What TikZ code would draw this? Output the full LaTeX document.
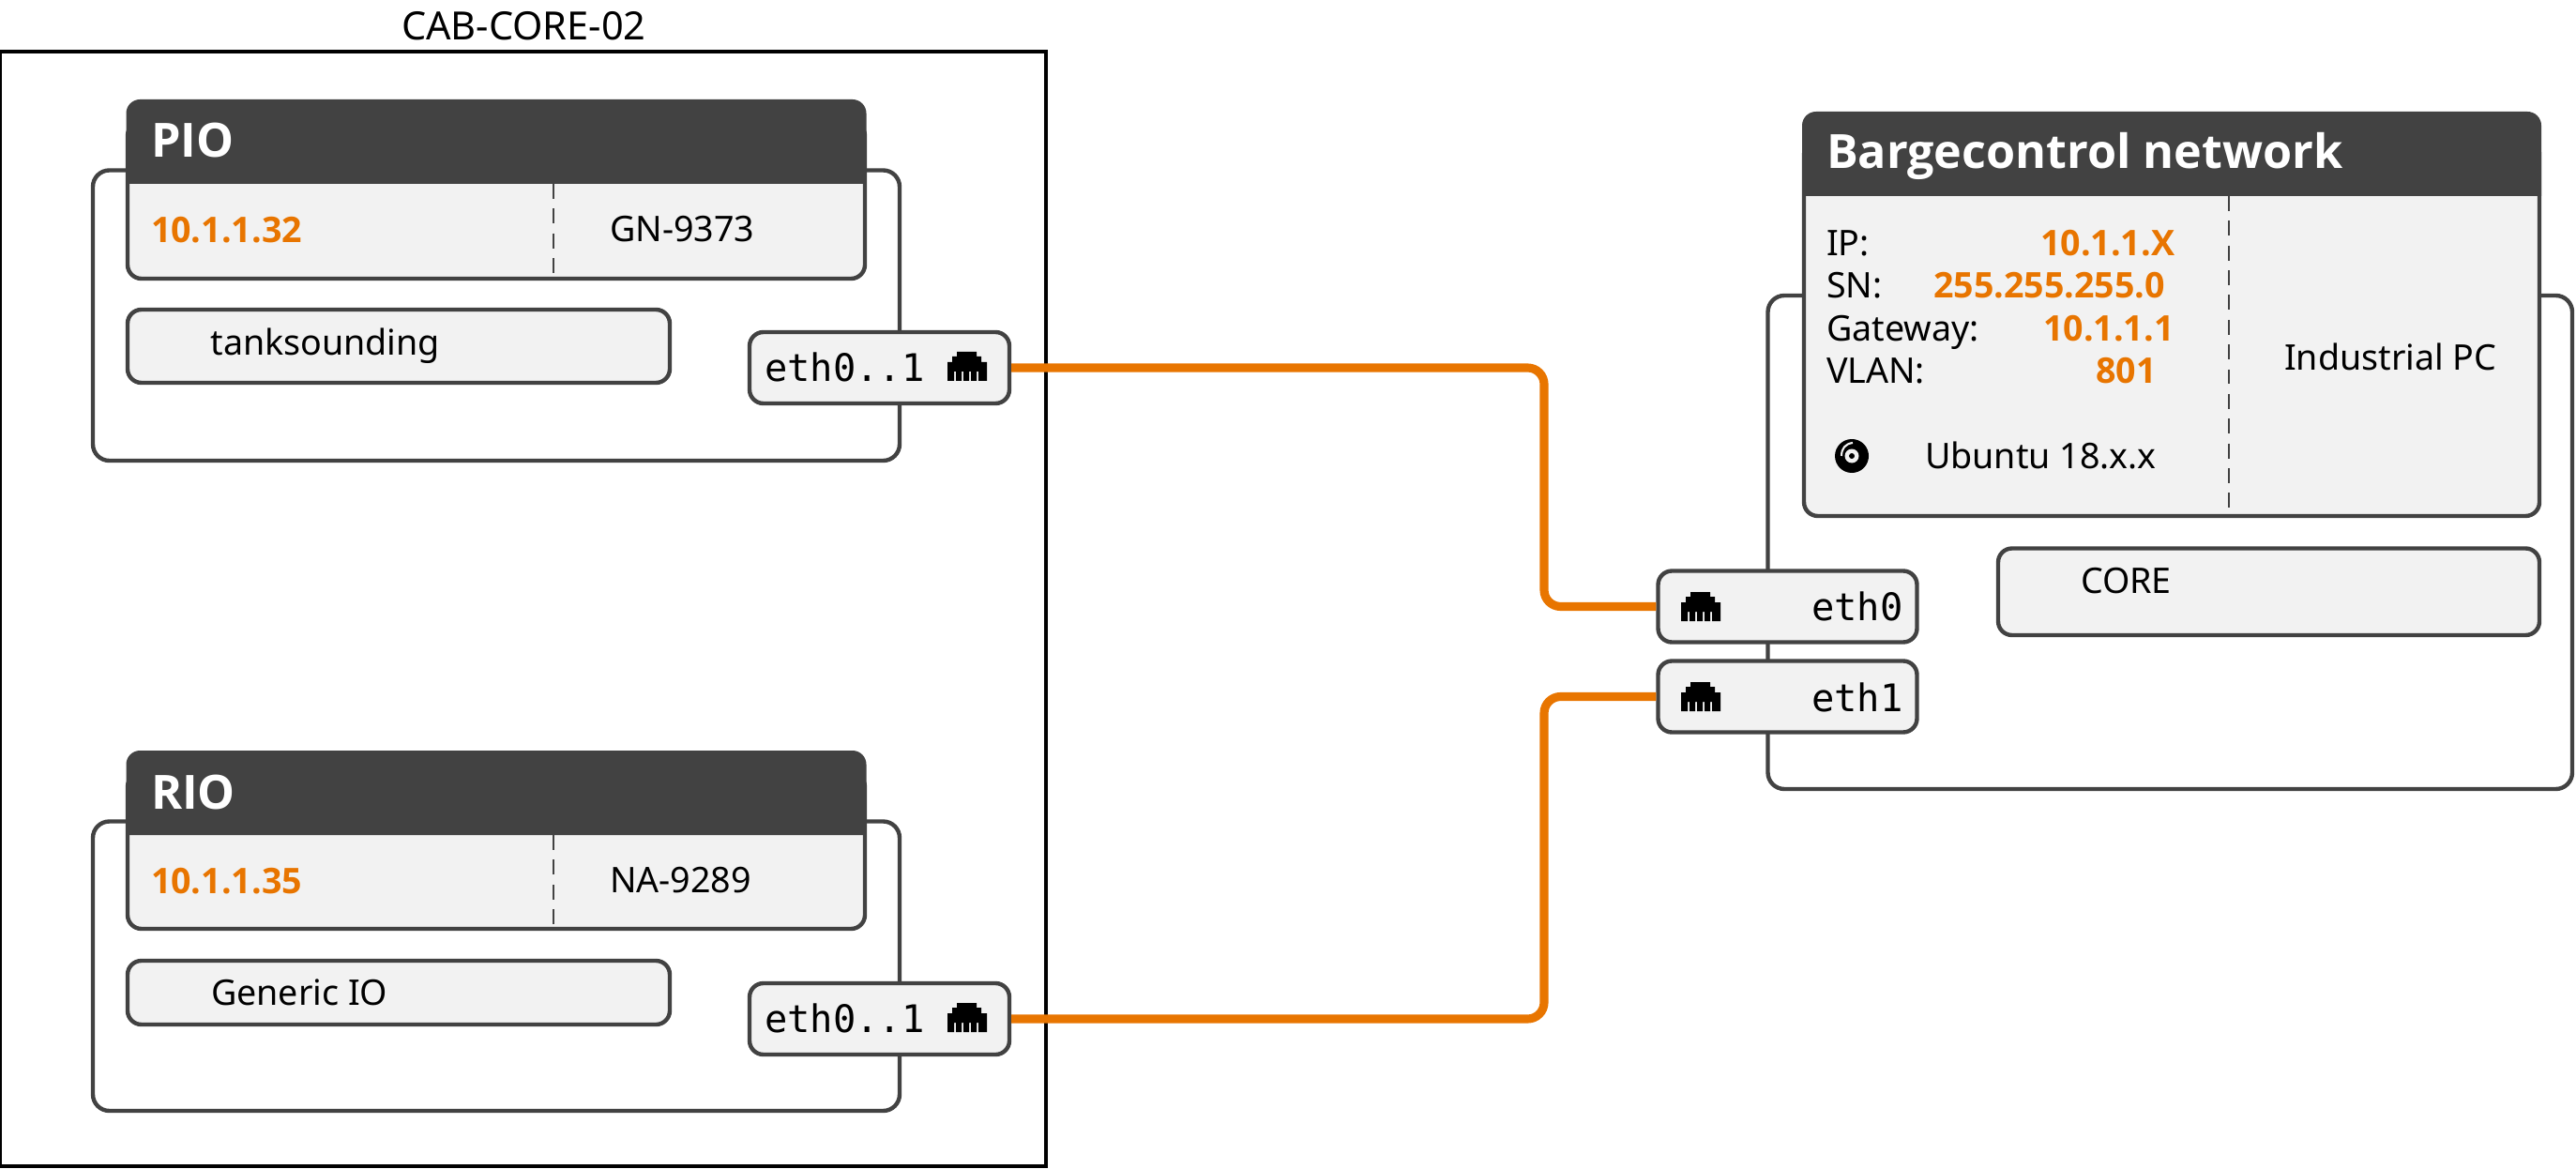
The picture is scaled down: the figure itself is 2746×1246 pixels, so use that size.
\documentclass[tikz,border=0pt]{standalone}
\usepackage{fontspec}
\setmainfont{Noto Sans}
\newfontfamily\boldfam{Open Sans}
\setmonofont{DejaVu Sans Mono}
\definecolor{darkline}{HTML}{424242}
\definecolor{panel}{HTML}{F2F2F2}
\definecolor{wireorange}{HTML}{E87500}
\newcommand{\pxbox}[6]{%
  \pgfmathsetmacro{\bxw}{(#4-#2)}%
  \pgfmathsetmacro{\bxh}{(#5-#3)}%
  \pgfmathsetmacro{\bxx}{(#2+#4)/2}%
  \pgfmathsetmacro{\bxy}{(#3+#5)/2}%
  \node[#6,minimum width=\bxw*0.01cm,minimum height=\bxh*0.01cm] (#1) at (\bxx,\bxy) {};}
\newcommand{\headshape}[4]{%
  \fill[darkline] (#1,#4) [rounded corners=4.2pt] -- (#1,#2) -- (#3,#2) [sharp corners] -- (#3,#4) -- cycle;}
\newcommand{\rjicon}[2]{%
  \begin{scope}[shift={(#1,#2)}]
    \fill[black] (10,0) -- (31,0) -- (31,5) -- (36,5) -- (36,11) -- (42,11) -- (42,31) -- (33,31) -- (33,21)
      -- (31,21) -- (31,31) -- (25,31) -- (25,21) -- (23,21) -- (23,31) -- (17,31) -- (17,21) -- (15,21) -- (15,31)
      -- (9,31) -- (9,21) -- (7,21) -- (7,31) -- (0,31)
      -- (0,11) -- (5,11) -- (5,5) -- (10,5) -- cycle;
  \end{scope}}
\tikzset{
  x=0.01cm,y=-0.01cm,
  panelbox/.style={draw=darkline,fill=panel,line width=1.25pt,rounded corners=4.2pt,inner sep=0pt,outer sep=0pt},
  shellbox/.style={draw=darkline,fill=white,line width=1.25pt,rounded corners=5pt,inner sep=0pt,outer sep=0pt},
  cabinet/.style={draw=black,fill=white,line width=1pt,inner sep=0pt,outer sep=0pt},
  txt/.style={anchor=base west,inner sep=0pt,outer sep=0pt,font=\fontsize{10.7pt}{12pt}\selectfont,text=black},
  cabtxt/.style={txt,font=\fontsize{11.8pt}{13pt}\selectfont},
  val/.style={txt,font=\fontsize{10.7pt}{12pt}\boldfam\bfseries,text=wireorange},
  head/.style={txt,font=\fontsize{14.3pt}{16pt}\boldfam\bfseries,text=white},
  mono/.style={txt,font=\fontsize{11.5pt}{13pt}\selectfont\ttfamily},
  divider/.style={draw=darkline,line width=0.4pt,dash pattern=on 4.5pt off 3pt},
  wire/.style={draw=wireorange,line width=2.6pt,rounded corners=5pt,shorten >=0.6pt,shorten <=0.6pt},
}
\begin{document}
\begin{tikzpicture}
\useasboundingbox (0,0) rectangle (2746,1246);
% cabinet
\pxbox{cab}{0}{55}{1115}{1243}{cabinet}
\node[cabtxt] (cabl) at (428,43) {CAB-CORE-02};
% PIO
\pxbox{pioshell}{99}{181.5}{959}{491}{shellbox}
\pxbox{piobody}{136}{130}{922}{297}{panelbox}
\headshape{134.5}{106}{923.5}{196}
\node[head] (piohead) at (161,168) {PIO};
\draw[divider] (590,196) -- (590,296);
\node[val] (pioip) at (161,259) {10.1.1.32};
\node[txt] (piosn) at (650,258) {GN-9373};
\pxbox{piotask}{136}{330}{714}{408}{panelbox}
\node[txt] (piotasktxt) at (224.5,379) {tanksounding};
\pxbox{pioport}{799}{354}{1076}{430}{panelbox}
\node[mono] (pioporttxt) at (815,406.5) {eth0..1};
\rjicon{1010}{375}
% RIO
\pxbox{rioshell}{99}{875.5}{959}{1184}{shellbox}
\pxbox{riobody}{136}{824}{922}{990}{panelbox}
\headshape{134.5}{800}{923.5}{890}
\node[head] (riohead) at (161,862) {RIO};
\draw[divider] (590,890) -- (590,989);
\node[val] (rioip) at (161,952) {10.1.1.35};
\node[txt] (riosn) at (650,951) {NA-9289};
\pxbox{riotask}{136}{1024}{714}{1092}{panelbox}
\node[txt] (riotasktxt) at (225,1071) {Generic IO};
\pxbox{rioport}{799}{1048}{1076}{1124}{panelbox}
\node[mono] (rioporttxt) at (815,1100.5) {eth0..1};
\rjicon{1010}{1069}
% Industrial PC
\pxbox{pcshell}{1884.5}{315}{2742}{841}{shellbox}
\pxbox{pcbody}{1923}{150}{2707}{550}{panelbox}
\headshape{1921}{119}{2709}{209}
\node[head] (pchead) at (1947,180) {Bargecontrol network};
\draw[divider] (2376,209) -- (2376,548);
\node[txt] (ipl) at (1947,272.5) {IP:};
\node[txt] (snl) at (1947,318) {SN:};
\node[txt] (gwl) at (1947,363.5) {Gateway:};
\node[txt] (vll) at (1947,408.5) {VLAN:};
\node[val] (ipv) at (2175,272.5) {10.1.1.X};
\node[val] (snv) at (2061,318) {255.255.255.0};
\node[val] (gwv) at (2178,363.5) {10.1.1.1};
\node[val] (vlv) at (2234,408.5) {801};
\node[txt] (pctype) at (2435,395) {Industrial PC};
\node[txt] (os) at (2052,499.5) {Ubuntu 18.x.x};
\fill[black] (1974,486) circle[radius=18];
\fill[panel] (1974,486) circle[radius=7.5];
\fill[black] (1974,486) circle[radius=3];
\draw[panel,line width=0.6pt] (1963,486) .. controls (1963,478) and (1967,473) .. (1975,472);
\pxbox{core}{2130}{584.5}{2707}{677}{panelbox}
\node[txt] (coretxt) at (2218,632) {CORE};
\pxbox{eth0}{1767.5}{608.5}{2043.5}{684.5}{panelbox}
\node[mono] (eth0txt) at (1931,661.7) {eth0};
\rjicon{1792}{631}
\pxbox{eth1}{1767.5}{704.5}{2043.5}{780.5}{panelbox}
\node[mono] (eth1txt) at (1931,758) {eth1};
\rjicon{1792}{727}
% connectors
\coordinate (bus) at (1646,0);
\draw[wire] (pioport.east) -- (bus |- pioport.east) -- (bus |- eth0.west) -- (eth0.west);
\draw[wire] (rioport.east) -- (bus |- rioport.east) -- (bus |- eth1.west) -- (eth1.west);
\end{tikzpicture}
\end{document}
